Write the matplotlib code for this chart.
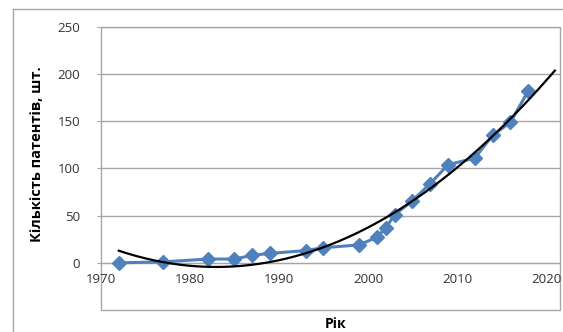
import matplotlib
matplotlib.use("Agg")
import matplotlib.pyplot as plt
import numpy as np
from matplotlib.patches import Rectangle
from matplotlib.lines import Line2D

# patent counts by year
years = [1972, 1977, 1982, 1985, 1987, 1989, 1993, 1995, 1999, 2001,
         2002, 2003, 2005, 2007, 2009, 2012, 2014, 2016, 2018]
patents = [0, 1, 4, 4, 8, 10, 13, 16, 19, 27,
           37, 51, 66, 84, 104, 111, 135, 149, 182]

y_ticks = [0, 50, 100, 150, 200, 250]
x_ticks = [1970, 1980, 1990, 2000, 2010, 2020]

plt.rcParams['font.family'] = ['Open Sans', 'DejaVu Sans']

fig = plt.figure(figsize=(5.63, 3.32), dpi=100)
ax = fig.add_axes([0.1794, 0.0663, 0.8156, 0.8524])

# outer chart frame (top and left edges visible)
fig.add_artist(Line2D([13 / 563, 13 / 563], [0, 1 - 9 / 332],
                      transform=fig.transFigure, color="#a6a6a6", lw=1))
fig.add_artist(Line2D([13 / 563, 1], [1 - 9 / 332, 1 - 9 / 332],
                      transform=fig.transFigure, color="#a6a6a6", lw=1))

# polynomial trend (order 2), extended forward
coef = np.polyfit(years, patents, 2)
tx = np.linspace(years[0], 2021, 200)
ax.plot(tx, np.polyval(coef, tx), color="black", lw=1.6, zorder=4)

ax.plot(years, patents, color="#4F81BD", lw=2.2, marker="D", ms=7,
        zorder=3)

ax.set_xlim(1970, 2021.6)
ax.set_ylim(-50, 250)
ax.set_yticks(y_ticks)
ax.set_xticks(x_ticks)
ax.grid(axis="y", color="#a6a6a6", lw=1)
ax.set_axisbelow(True)

for s in ["top", "right", "left"]:
    ax.spines[s].set_visible(False)
ax.spines["bottom"].set_position(("data", 0))
ax.spines["bottom"].set_color("#a6a6a6")
ax.add_patch(Rectangle((0, 0), 1, 1, transform=ax.transAxes, fill=False,
                       ec="#a6a6a6", lw=1, clip_on=False, zorder=0))

ax.tick_params(axis="y", length=3, color="#a6a6a6", labelsize=9.5,
               labelcolor="#333333", pad=12)
ax.tick_params(axis="x", length=0, labelsize=9.5, labelcolor="#333333",
               pad=7)

ax.set_xlabel("Рік", fontsize=10, fontweight="bold")
ax.xaxis.set_label_coords(0.51, -0.025)
ax.set_ylabel("Кількість патентів, шт.", fontsize=10.5, fontweight="bold")
ax.yaxis.set_label_coords(-0.125, 0.55)

plt.savefig("out.png", dpi=100)
